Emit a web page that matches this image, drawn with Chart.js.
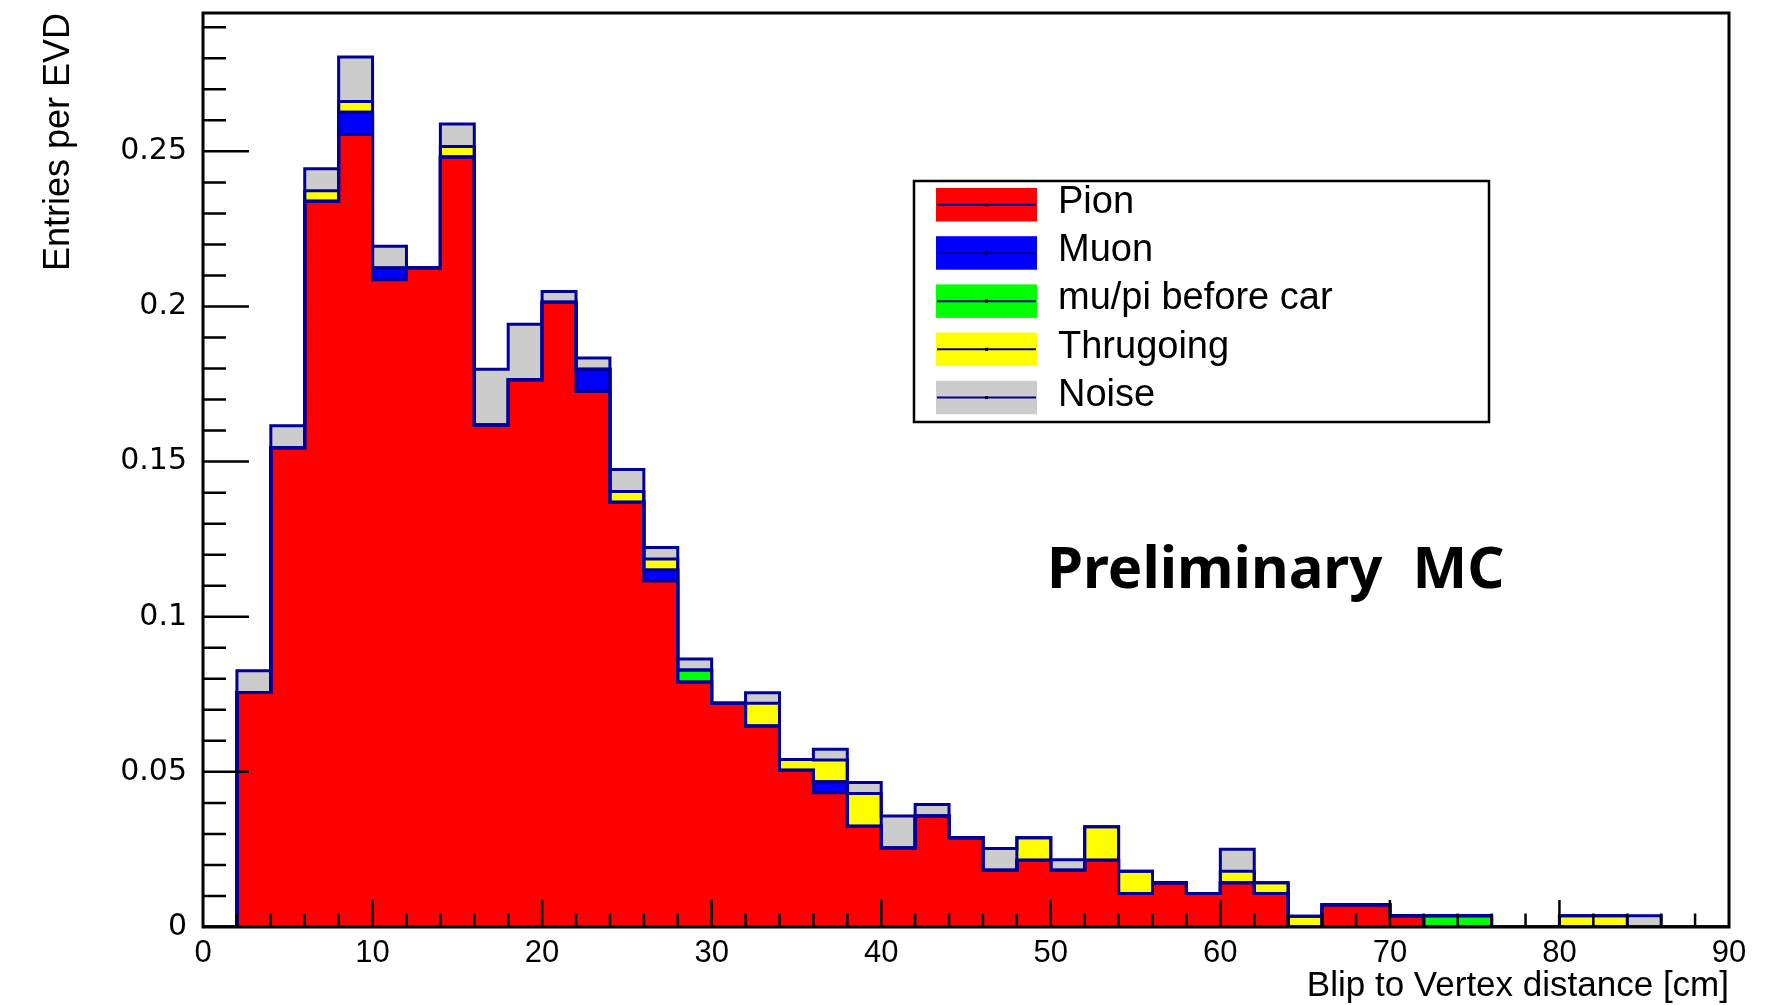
<!DOCTYPE html>
<html lang="en">
<head>
<meta charset="UTF-8">
<meta name="viewport" content="width=device-width, initial-scale=1.0">
<title>Blip to Vertex distance</title>
<script src="https://cdn.jsdelivr.net/npm/chart.js"></script>
<style>
  body { margin: 0; background: #fff; }
  #wrap { width: 1768px; height: 1005px; }
</style>
</head>
<body>
<div id="wrap"><canvas id="blipChart" width="1768" height="1005"></canvas></div>

<script>
// 2 cm bins, 0 to 90 cm
const binEdges = [0, 2, 4, 6, 8, 10, 12, 14, 16, 18, 20, 22, 24, 26, 28, 30,
                  32, 34, 36, 38, 40, 42, 44, 46, 48, 50, 52, 54, 56, 58, 60,
                  62, 64, 66, 68, 70, 72, 74, 76, 78, 80, 82, 84, 86, 88, 90];

// entries per EVD in each bin, one array per component of the stack
const pion = [0, 0.0756, 0.1545, 0.2339, 0.2554, 0.2086, 0.2124, 0.2482, 0.1618,
              0.1764, 0.2014, 0.1726, 0.1369, 0.1115, 0.0790, 0.0721, 0.0648, 0.0505,
              0.0433, 0.0325, 0.0255, 0.0358, 0.0288, 0.0183, 0.0215, 0.0183, 0.0215,
              0.0108, 0.0143, 0.0108, 0.0143, 0.0108, 0, 0.0072, 0.0072, 0.0036,
              0, 0, 0, 0, 0, 0, 0, 0, 0];
const muon = [0, 0, 0, 0, 0.0072, 0.0038, 0, 0, 0,
              0, 0, 0.0072, 0, 0.0036, 0, 0, 0, 0,
              0.0035, 0, 0, 0, 0, 0, 0, 0, 0,
              0, 0, 0, 0, 0, 0, 0, 0, 0,
              0, 0, 0, 0, 0, 0, 0, 0, 0];
const muPiBeforeCar = [0, 0, 0, 0, 0, 0, 0, 0, 0,
                       0, 0, 0, 0, 0, 0.0038, 0, 0, 0,
                       0, 0, 0, 0, 0, 0, 0, 0, 0,
                       0, 0, 0, 0, 0, 0, 0, 0, 0,
                       0.0036, 0.0036, 0, 0, 0, 0, 0, 0, 0];
const thrugoing = [0, 0, 0, 0.0034, 0.0035, 0, 0, 0.0034, 0,
                   0, 0, 0, 0.0035, 0.0035, 0, 0, 0.0073, 0.0035,
                   0.0070, 0.0105, 0, 0, 0, 0, 0.0073, 0, 0.0108,
                   0.0072, 0, 0, 0.0037, 0.0035, 0.0035, 0, 0, 0,
                   0, 0, 0, 0, 0.0036, 0.0036, 0, 0, 0];
const noise = [0, 0.0070, 0.0071, 0.0071, 0.0143, 0.0070, 0, 0.0072, 0.0180,
               0.0179, 0.0034, 0.0036, 0.0071, 0.0037, 0.0036, 0, 0.0034, 0,
               0.0035, 0.0036, 0.0103, 0.0037, 0, 0.0070, 0, 0.0034, 0,
               0, 0, 0, 0.0071, 0, 0, 0, 0, 0,
               0, 0, 0, 0, 0, 0, 0.0036, 0, 0];

const categories = ['Pion', 'Muon', 'mu/pi before car', 'Thrugoing', 'Noise'];
const series = [pion, muon, muPiBeforeCar, thrugoing, noise];
const fillColors = ['#ff0000', '#0000ff', '#00ff00', '#ffff00', '#cccccc'];
const outlineColor = '#000099';

const xTicks = [0, 10, 20, 30, 40, 50, 60, 70, 80, 90];
const yTicks = [0, 0.05, 0.1, 0.15, 0.2, 0.25];
const yTickLabels = ['0', '0.05', '0.1', '0.15', '0.2', '0.25'];
const xTitle = 'Blip to Vertex distance [cm]';
const yTitle = 'Entries per EVD';
const yMax = 0.2946;

// running sums: top edge of each layer of the stack
const cumulative = [];
let running = pion.map(() => 0);
series.forEach(s => {
    running = running.map((v, i) => v + s[i]);
    cumulative.push(running);
});

// step outline for every layer, like a ROOT "hist" draw
const outlineSets = cumulative.map((levels, k) => ({
    type: 'line',
    label: categories[k] + ' outline',
    data: binEdges.map((x, i) => ({ x: x, y: levels[Math.min(i, levels.length - 1)] })),
    stack: 'outline' + k,
    stepped: 'before',
    borderColor: outlineColor,
    borderWidth: 3,
    borderJoinStyle: 'miter',
    pointRadius: 0,
    fill: false
}));

const fillSets = series.map((vals, k) => ({
    label: categories[k],
    data: vals.map((y, i) => ({ x: (binEdges[i] + binEdges[i + 1]) / 2, y: y })),
    backgroundColor: fillColors[k],
    borderWidth: 0,
    inflateAmount: 0.8,
    barPercentage: 1,
    categoryPercentage: 1
}));

// inner tick marks, frame, legend box and the label
const rootStyle = {
    id: 'rootStyle',
    afterDatasetsDraw(chart) {
        const { ctx, chartArea: a, scales: { x, y } } = chart;
        ctx.save();
        ctx.strokeStyle = '#000';
        ctx.lineWidth = 2.5;
        ctx.beginPath();
        for (let i = 1; i <= 29; i++) {
            const py = y.getPixelForValue(i / 100);
            const len = i % 5 === 0 ? 46 : 23;
            ctx.moveTo(a.left, py);
            ctx.lineTo(a.left + len, py);
        }
        for (let i = 1; i < 45; i++) {
            const px = x.getPixelForValue(i * 2);
            const len = i % 5 === 0 ? 27 : 13.5;
            ctx.moveTo(px, a.bottom);
            ctx.lineTo(px, a.bottom - len);
        }
        ctx.stroke();
        ctx.lineWidth = 3;
        ctx.strokeRect(a.left, a.top, a.right - a.left, a.bottom - a.top);
        ctx.restore();
    },
    afterDraw(chart) {
        const ctx = chart.ctx;
        ctx.save();

        // legend
        const box = { left: 914, top: 181, right: 1489, bottom: 422 };
        ctx.fillStyle = '#fff';
        ctx.fillRect(box.left, box.top, box.right - box.left, box.bottom - box.top);
        ctx.strokeStyle = '#000';
        ctx.lineWidth = 2.5;
        ctx.strokeRect(box.left, box.top, box.right - box.left, box.bottom - box.top);

        ctx.font = '38px "Liberation Sans", Arial, sans-serif';
        ctx.textBaseline = 'alphabetic';
        ctx.textAlign = 'left';
        categories.forEach((name, k) => {
            const top = 188 + k * 48.2;
            const sw = { x: 936, w: 101, h: 33.5 };
            ctx.fillStyle = fillColors[k];
            ctx.fillRect(sw.x, top, sw.w, sw.h);
            const cy = top + sw.h / 2;
            ctx.strokeStyle = outlineColor;
            ctx.lineWidth = 2;
            ctx.beginPath();
            ctx.moveTo(sw.x + 1, cy);
            ctx.lineTo(sw.x + sw.w - 1, cy);
            ctx.stroke();
            ctx.fillStyle = '#000';
            ctx.fillRect(sw.x + sw.w / 2 - 1.5, cy - 1.5, 3, 3);
            ctx.fillText(name, 1058, top + 25);
        });

        ctx.font = 'bold 58px "Noto Sans", sans-serif';
        ctx.fillStyle = '#000';
        ctx.fillText('Preliminary  MC', 1047, 588);
        ctx.restore();
    }
};

const ctx = document.getElementById('blipChart');

new Chart(ctx, {
    type: 'bar',
    data: { datasets: [...outlineSets, ...fillSets] },
    options: {
        responsive: false,
        animation: false,
        layout: { padding: { top: 13, right: 39, left: 0, bottom: 0 } },
        plugins: {
            legend: { display: false },
            tooltip: { enabled: false }
        },
        scales: {
            x: {
                type: 'linear',
                min: 0,
                max: 90,
                stacked: true,
                offset: false,
                grid: { display: false, drawTicks: false },
                border: { display: false },
                afterBuildTicks: s => { s.ticks = xTicks.map(v => ({ value: v })); },
                afterFit: s => {
                    s.height = 78;
                    s.paddingLeft = 0; s.paddingRight = 0;
                },
                ticks: {
                    color: '#000',
                    padding: 8,
                    autoSkip: false,
                    maxRotation: 0,
                    font: { family: '"Liberation Sans", Arial, sans-serif', size: 31 }
                },
                title: {
                    display: true,
                    text: xTitle,
                    align: 'end',
                    color: '#000',
                    padding: { top: 0, bottom: 1 },
                    font: { family: '"Liberation Sans", Arial, sans-serif', size: 35, lineHeight: 1 }
                }
            },
            y: {
                min: 0,
                max: yMax,
                stacked: true,
                grid: { display: false, drawTicks: false },
                border: { display: false },
                afterBuildTicks: s => { s.ticks = yTicks.map(v => ({ value: v })); },
                afterFit: s => {
                    s.width = 203;
                    s.paddingTop = 0; s.paddingBottom = 0;
                },
                ticks: {
                    color: '#000',
                    padding: 16,
                    callback: (value, index) => yTickLabels[index],
                    font: { family: '"DejaVu Sans", sans-serif', size: 30 }
                },
                title: {
                    display: true,
                    text: yTitle,
                    align: 'end',
                    color: '#000',
                    padding: { top: 41.5, bottom: 0 },
                    font: { family: '"Liberation Sans", Arial, sans-serif', size: 36, lineHeight: 1 }
                }
            }
        }
    },
    plugins: [rootStyle]
});
</script>
</body>
</html>
